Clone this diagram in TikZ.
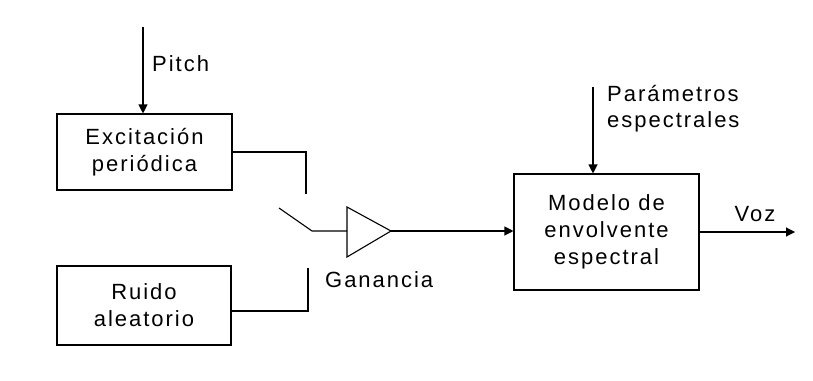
\documentclass[tikz,border=0pt]{standalone}
\usepackage{fontspec}
\setmainfont{Liberation Sans}[LetterSpace=9]
\usetikzlibrary{arrows.meta}
\begin{document}
\begin{tikzpicture}[x=1pt,y=-1pt,
  font=\fontsize{22}{27}\selectfont,
  wire/.style={line width=1.1pt},
  sig/.style={wire,-{Triangle[length=9pt,width=9pt]}},
  block/.style={draw,line width=1.1pt,align=center,inner sep=0pt},
  lbl/.style={inner sep=0pt,anchor=base west}]
  \useasboundingbox (0,0) rectangle (813,380);

  % blocks
  \node[block,minimum width=175pt,minimum height=76pt] (exc) at (144.5,152) {Excitación\\periódica};
  \node[block,minimum width=174pt,minimum height=79pt] (ruido) at (144,305.5) {Ruido\\aleatorio};
  \node[block,minimum width=185pt,minimum height=116pt] (modelo) at (606.5,232) {Modelo de\\envolvente\\espectral};

  % switch and amplifier points
  \coordinate (excend) at (306,194);
  \coordinate (ruend) at (308,268);
  \coordinate (ruout) at (231,311);
  \coordinate (arm) at (279,208);
  \coordinate (pivot) at (312,231);
  \coordinate (gin) at (347,231);
  \coordinate (gout) at (391,231);

  % external inputs
  \coordinate (pitchsrc) at (143,27);
  \coordinate (paramsrc) at (593,87);
  \coordinate (vozend) at (795,232);

  \draw[sig] (pitchsrc) -- (pitchsrc |- exc.north);
  \draw[sig] (paramsrc) -- (paramsrc |- modelo.north);

  % contacts
  \draw[wire] (exc.east) -| (excend);
  \draw[wire] (ruout) -| (ruend);
  \draw[wire] (arm) -- (pivot) -- (gin);

  % gain triangle
  \draw[wire,line join=miter] (347,207) -- (gout) -- (347,257) -- cycle;

  \draw[sig] (gout) -- (modelo.west |- gout);
  \draw[sig] (modelo.east) -- (vozend);

  % labels
  \node[lbl] (pitch) at (152,71) {Pitch};
  \node[lbl] (param1) at (607,101) {Parámetros};
  \node[lbl] (param2) at (607,127) {espectrales};
  \node[lbl] (gan) at (325,287) {Ganancia};
  \node[inner sep=0pt,anchor=base] (voz) at (755,221) {Voz};
\end{tikzpicture}
\end{document}
